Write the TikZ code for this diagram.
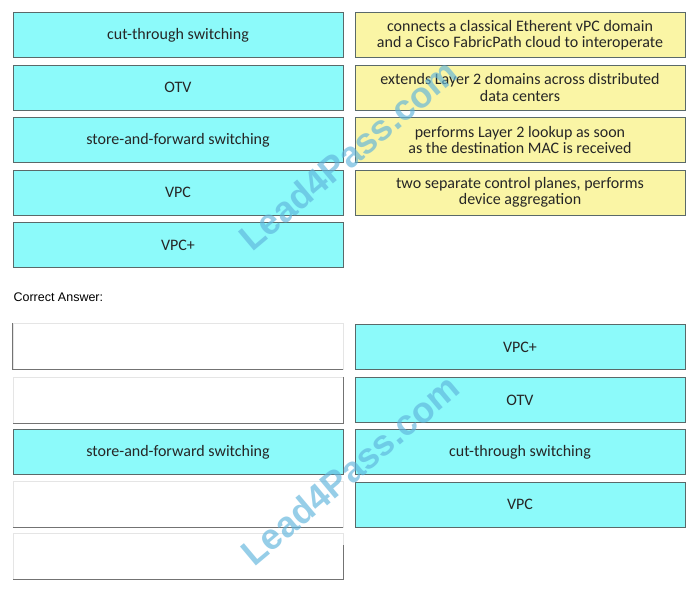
\documentclass[tikz,border=0pt]{standalone}
\usepackage{fontspec}
\setmainfont{Carlito}
\newfontfamily\arialfont{Liberation Sans}
\usetikzlibrary{positioning}
\definecolor{boxcyan}{RGB}{140,250,250}
\definecolor{boxyellow}{RGB}{250,245,165}
\definecolor{boxline}{RGB}{90,105,105}
\definecolor{markblue}{RGB}{95,180,220}
\tikzset{
    cbox/.style = {rectangle, draw=boxline, thick, fill=boxcyan, minimum width=330pt, minimum height=45pt, inner sep=0pt, font=\fontsize{16}{17}\selectfont, text=black!85},
    ybox/.style = {rectangle, draw=boxline, thick, fill=boxyellow, minimum width=330pt, minimum height=45pt, inner sep=0pt, align=center, font=\fontsize{16}{16.5}\selectfont, text=black!85},
    wbox/.style = {rectangle, draw=black!10, fill=white, minimum width=330pt, minimum height=46pt, inner sep=0pt},
    edgew/.style = {draw=black!55, thick},
    wmark/.style = {font=\arialfont\bfseries\fontsize{36}{36}\selectfont, text=markblue, opacity=0.65, rotate=40}
}

\begin{document}
\begin{tikzpicture}[x=1pt,y=-1pt]
\useasboundingbox (0,0) rectangle (694,595);

% question
\node[cbox] at (178,35) (l1) {cut-through switching};
\node[cbox] at (178,87.5) (l2) {OTV};
\node[cbox] at (178,140) (l3) {store-and-forward switching};
\node[cbox] at (178,192.5) (l4) {VPC};
\node[cbox] at (178,245) (l5) {VPC+};
%
\node[ybox] at (520,35) (r1) {connects a classical Etherent vPC domain\\and a Cisco FabricPath cloud to interoperate};
\node[ybox] at (520,87.5) (r2) {extends Layer 2 domains across distributed\\data centers};
\node[ybox] at (520,140) (r3) {performs Layer 2 lookup as soon\\as the destination MAC is received};
\node[ybox] at (520,192.5) (r4) {two separate control planes, performs\\device aggregation};

\node[anchor=west, font=\arialfont\fontsize{12.5}{14}\selectfont] at (10,297) (ans) {Correct Answer:};

% answer
\node[wbox] at (178,346.5) (w1) {};
\node[wbox] at (178,400) (w2) {};
\node[cbox] at (178,452) (a3) {store-and-forward switching};
\node[wbox] at (178,504) (w4) {};
\node[wbox] at (178,556.5) (w5) {};
\draw[edgew] (w1.north west) -- (w1.south west) -- (w1.south east);
\draw[edgew] (w2.north east) -- (w2.south east) -- (w2.south west);
\draw[edgew] (w4.south west) -- (w4.south east);
\draw[edgew] ([yshift=-12pt]w5.north east) -- (w5.south east) -- (w5.south west);
%
\node[cbox] at (520,347) (b1) {VPC+};
\node[cbox] at (520,400) (b2) {OTV};
\node[cbox] at (520,452) (b3) {cut-through switching};
\node[cbox] at (520,504.5) (b4) {VPC};

% watermarks
\node[wmark] at (348,155) (m1) {Lead4Pass.com};
\node[wmark] at (350,470) (m2) {Lead4Pass.com};
\end{tikzpicture}
\end{document}
